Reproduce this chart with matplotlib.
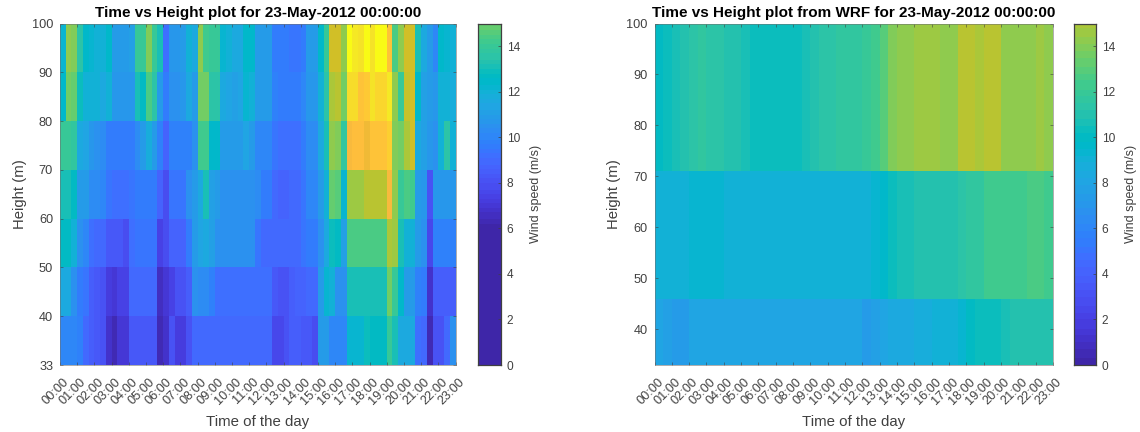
import numpy as np
import matplotlib
matplotlib.use("Agg")
import matplotlib.pyplot as plt
from matplotlib.colors import ListedColormap, Normalize
from matplotlib.transforms import ScaledTranslation

plt.rcParams['font.family'] = ['Liberation Sans', 'DejaVu Sans']

# MATLAB parula, 64 levels
parula = [
    [0.2422, 0.1504, 0.6603], [0.2504, 0.1650, 0.7076], [0.2578, 0.1818, 0.7511], [0.2647, 0.1978, 0.7952],
    [0.2706, 0.2147, 0.8364], [0.2751, 0.2342, 0.8710], [0.2783, 0.2559, 0.8991], [0.2803, 0.2782, 0.9221],
    [0.2813, 0.3006, 0.9414], [0.2810, 0.3228, 0.9579], [0.2795, 0.3447, 0.9717], [0.2760, 0.3667, 0.9829],
    [0.2699, 0.3892, 0.9906], [0.2602, 0.4123, 0.9952], [0.2440, 0.4358, 0.9988], [0.2206, 0.4603, 0.9973],
    [0.1963, 0.4847, 0.9892], [0.1834, 0.5074, 0.9798], [0.1786, 0.5289, 0.9682], [0.1764, 0.5499, 0.9520],
    [0.1687, 0.5703, 0.9359], [0.1540, 0.5902, 0.9218], [0.1460, 0.6091, 0.9079], [0.1380, 0.6276, 0.8973],
    [0.1248, 0.6459, 0.8883], [0.1113, 0.6635, 0.8763], [0.0952, 0.6798, 0.8598], [0.0689, 0.6948, 0.8394],
    [0.0297, 0.7082, 0.8163], [0.0036, 0.7203, 0.7917], [0.0067, 0.7312, 0.7660], [0.0433, 0.7411, 0.7394],
    [0.0964, 0.7500, 0.7120], [0.1408, 0.7584, 0.6842], [0.1717, 0.7670, 0.6554], [0.1938, 0.7758, 0.6251],
    [0.2161, 0.7843, 0.5923], [0.2470, 0.7918, 0.5567], [0.2906, 0.7973, 0.5188], [0.3406, 0.8008, 0.4789],
    [0.3909, 0.8029, 0.4354], [0.4456, 0.8024, 0.3909], [0.5044, 0.7993, 0.3480], [0.5616, 0.7942, 0.3045],
    [0.6174, 0.7876, 0.2612], [0.6720, 0.7793, 0.2227], [0.7242, 0.7698, 0.1910], [0.7738, 0.7598, 0.1646],
    [0.8203, 0.7498, 0.1535], [0.8634, 0.7406, 0.1596], [0.9035, 0.7330, 0.1774], [0.9393, 0.7288, 0.2100],
    [0.9728, 0.7298, 0.2394], [0.9956, 0.7434, 0.2371], [0.9970, 0.7659, 0.2199], [0.9952, 0.7893, 0.2028],
    [0.9892, 0.8136, 0.1885], [0.9786, 0.8386, 0.1766], [0.9676, 0.8639, 0.1643], [0.9610, 0.8890, 0.1537],
    [0.9597, 0.9135, 0.1423], [0.9628, 0.9373, 0.1265], [0.9691, 0.9606, 0.1064], [0.9769, 0.9839, 0.0805],
]

time_labels = ["%02d:00" % h for h in range(24)]

# measured wind speed, 20 minute columns, one list per height band
obs_90_100 = [12.2, 15.5, 15.2, 13.6, 12.5, 12.3, 12, 12, 12.4, 11, 11, 11, 11.2, 14, 14, 15.2, 14, 13, 9.2, 10.8, 10.8, 11, 12,
              11.5, 15.5, 14.2, 14, 14, 12.2, 12, 11.5, 11.6, 12.5, 12.5, 11, 11, 11, 9.5, 9.5, 9.5, 9.4, 9.3, 9.5, 11, 11, 12.5,
              14, 16.7, 16.5, 15.5, 20, 19.2, 19, 20, 19, 20, 20, 18, 14.5, 15.5, 16.5, 16.7, 13, 11.5, 11, 10, 12.5, 12.3, 12]
obs_80_90 = [12.5, 15, 14.8, 12.8, 12.1, 12, 12, 11.6, 12, 10.7, 10.7, 10.7, 10.8, 13, 12.6, 14.5, 13.5, 11, 9.5, 10.5, 10.5, 10.6, 11.5,
             11, 15, 15, 13.5, 13.5, 11.6, 11.4, 11.2, 11.4, 12.2, 12, 11, 11, 11, 9.8, 9.7, 9.7, 9.7, 9.7, 10, 10.6, 10.8, 12,
             13.5, 16, 16.2, 15, 18.8, 18.7, 18, 18.2, 19, 18.5, 18.5, 19.2, 15.5, 14, 16.4, 16.6, 12.5, 11.2, 11, 10.8, 12, 12, 11.8]
obs_70_80 = [14, 14, 13.8, 11.5, 11.4, 10.8, 10.5, 10.3, 9.7, 9.5, 9.5, 9.5, 9.6, 10.3, 10.9, 11.8, 11, 9.8, 8.8, 9.8, 9.8, 9.8, 9.9,
             10.4, 14.2, 14.3, 12.5, 12.4, 11, 11, 11, 11, 11.3, 11, 10, 10, 10, 9.3, 9.2, 9.2, 9.2, 9.2, 9.6, 10.2, 10.3, 11.5,
             13, 15.5, 15.2, 13.8, 17.5, 17.8, 17.8, 17.2, 18, 18, 18, 18.4, 15.2, 15, 16, 16.5, 11.5, 11.2, 10.6, 10.5, 12, 13.5, 12]
obs_60_70 = [13.2, 13, 12.6, 11, 10.9, 10.3, 10.2, 10, 9.3, 9.2, 9.2, 9.2, 9.3, 9.5, 9.6, 9.7, 9.5, 8.7, 7.8, 9.4, 9.4, 9.4, 10.5,
             11, 11.5, 13, 11.2, 11, 10.5, 10.5, 10.5, 10.5, 10.5, 10.5, 10.3, 9.5, 9.5, 8.9, 8.8, 8.8, 9, 9, 9.4, 10, 10, 11,
             12, 14.8, 14.6, 12.2, 15.8, 15.8, 15.8, 16.2, 16.2, 16.2, 16.2, 17.5, 15.5, 14, 14.5, 14.2, 11, 10.8, 8, 10.6, 10.8, 10.8, 10.8]
obs_50_60 = [12.6, 12.6, 12, 10.5, 10, 9.2, 8.9, 8.9, 8.4, 8.3, 8.2, 7.8, 9.2, 9.3, 9.3, 9.3, 9.3, 7.5, 7.9, 8.7, 8.7, 8.8, 9.5,
             10.9, 11.4, 11.5, 11.2, 10.5, 10.5, 10.5, 10.5, 10.5, 10.5, 10.5, 9.3, 9, 9, 9, 9, 9, 9, 9, 9.4, 9.5, 9.6, 10.5,
             11.5, 12.8, 12.6, 11.2, 14.5, 14.5, 14.5, 14.5, 14.5, 14.5, 14.5, 16, 15.8, 13, 12, 12, 11, 10.5, 7.6, 9.8, 9.8, 9.8, 9.8]
obs_40_50 = [11.5, 11.5, 10.5, 9.6, 9.4, 8.5, 8.3, 8, 7.2, 7, 7.4, 7.5, 9, 9, 9, 9, 9, 6.5, 6.9, 7.4, 8, 8, 8.5,
             10.4, 10.3, 10.2, 9.9, 9.2, 9.2, 9.2, 9.2, 9.2, 9.2, 9.2, 9.2, 9.2, 9.2, 8.3, 8, 8, 8.5, 8.8, 8.8, 9, 9, 11,
             12.2, 12, 10.4, 10.4, 13.2, 13.2, 13.2, 13.2, 13.2, 13.2, 13.2, 15, 14, 12.5, 11, 11, 9.8, 9.5, 6.7, 8.6, 8.6, 8.6, 8.6]
obs_33_40 = [10, 10, 10, 9.8, 9, 8.6, 8.4, 8, 6.8, 6.4, 7, 7, 8.3, 8.3, 8.3, 8.3, 8.3, 6.3, 6.8, 8, 7.3, 7.3, 8,
             9, 9, 9, 9, 8.9, 8.9, 9, 9, 9, 8.9, 9, 9, 9, 9, 7.7, 7.6, 8, 8.5, 8.5, 8.3, 8.2, 7.8, 11,
             11, 10, 10, 10, 12.3, 12.3, 12.3, 12.8, 12.6, 12.6, 12.6, 14, 13, 11.5, 11.5, 11.5, 9.2, 9, 6.3, 8, 8, 9, 10.5]
obs_heights = [33, 40, 50, 60, 70, 80, 90, 100]

# WRF output, half hour columns
wrf_71_100 = [10, 10.2, 10.5, 11, 11.4, 11.5, 11.4, 11.3, 11.1, 10.9, 10.8, 10.3, 10.2, 10.2, 10.2, 10.2, 10.2, 10.6, 10.9, 11.2, 11.4, 11.5, 11.5,
              11.5, 11.9, 12.3, 13, 14, 14.2, 14.2, 14.5, 14.6, 14.7, 14.3, 14.4, 15.3, 15.3, 15, 15.4, 15.4, 14.4, 14.4, 14.4, 14.4, 14.6, 14.4]
wrf_46_71 = [9, 9, 9, 9, 9.2, 9.2, 9.2, 9.2, 8.9, 8.9, 8.9, 8.9, 8.9, 8.9, 8.9, 8.9, 8.9, 8.9, 8.9, 9.1, 9.1, 9.1, 9.1,
             9.1, 9, 9.2, 9.6, 10.2, 10.6, 10.8, 11, 11, 11, 11, 11, 11.2, 11.6, 11.6, 12.4, 12.4, 12.3, 12.2, 12.2, 12.5, 12.6, 12.3]
wrf_33_46 = [8.2, 7.6, 7.5, 7.5, 8, 8, 8, 8, 8.2, 8.2, 8.2, 8.2, 8.2, 8.2, 8.2, 8.2, 7.9, 7.9, 7.9, 7.9, 8, 8, 8,
             8, 7.5, 7.7, 8, 8.4, 8.5, 8.5, 8.6, 8.7, 9, 9, 9.1, 9.5, 10.1, 10.4, 10.4, 10.4, 10.6, 11, 11, 11, 11, 11]
wrf_edges = [33, 46, 71, 100]

GREY = '#404040'
W, H = 1140.0, 432.0
cmap = ListedColormap(parula)


def add_axes_px(fig, x0, x1, y0, y1):
    # pixel box, y measured from the top of the image
    return fig.add_axes([x0 / W, 1 - y1 / H, (x1 - x0) / W, (y1 - y0) / H])


def style_axes(ax):
    for s in ax.spines.values():
        s.set_linewidth(0.4)
        s.set_color('#707070')
    ax.tick_params(axis='y', direction='in', length=2, width=0.4, color=GREY, labelcolor=GREY, labelsize=9.2,
                   right=True, pad=5)
    ax.tick_params(axis='x', direction='in', length=2, width=0.4, color=GREY, labelcolor=GREY, labelsize=9.2,
                   top=True, pad=8)


def draw_colorbar(fig, x0, x1, norm):
    cax = add_axes_px(fig, x0, x1, 23.5, 365)
    levels = np.linspace(0, 15, 151)
    vals = (levels[:-1] + levels[1:]) / 2
    cax.pcolormesh([0, 1], levels, vals[:, None], cmap=cmap, norm=norm)
    cax.set_xticks([])
    cax.set_ylim(0, 15)
    cax.set_yticks(range(0, 15, 2))
    cax.yaxis.tick_right()
    cax.yaxis.set_label_position('right')
    cax.tick_params(direction='in', length=2.5, width=0.5, color=GREY, labelcolor=GREY, labelsize=8.6, pad=4)
    cax.set_ylabel('Wind speed (m/s)', fontsize=9, color=GREY, labelpad=7)
    for s in cax.spines.values():
        s.set_linewidth(0.9)
        s.set_color(GREY)


def finish_time_axis(ax, title):
    ax.set_xlim(0, 23)
    ax.set_xticks(range(24))
    ax.set_xticklabels(time_labels, rotation=45, ha='right', rotation_mode='anchor', fontsize=9.2)
    # labels sit a little to the right of the anchor, like the MATLAB ones
    shift = ScaledTranslation(3 / 100, 0, fig.dpi_scale_trans)
    for lab in ax.get_xticklabels():
        lab.set_transform(lab.get_transform() + shift)
    ax.set_xlabel('Time of the day', fontsize=10.8, color=GREY, labelpad=5.5)
    ax.set_ylabel('Height (m)', fontsize=10.7, color=GREY, labelpad=3.5)
    ax.set_title(title, fontsize=11, fontweight='bold', color='black', pad=4.5)


fig = plt.figure(figsize=(W / 100, H / 100), dpi=100)

# left panel, measured
obs = np.array([obs_33_40, obs_40_50, obs_50_60, obs_60_70, obs_70_80, obs_80_90, obs_90_100])
norm_obs = Normalize(6, 20)
ax1 = add_axes_px(fig, 60, 455.5, 23.5, 365)
ax1.pcolormesh(np.linspace(0, 23, obs.shape[1] + 1), np.arange(len(obs_heights)), obs, cmap=cmap, norm=norm_obs)
ax1.set_yticks(np.arange(len(obs_heights)))
ax1.set_yticklabels(obs_heights)
style_axes(ax1)
finish_time_axis(ax1, 'Time vs Height plot for 23-May-2012 00:00:00')
draw_colorbar(fig, 478, 501, norm_obs)

# right panel, WRF
wrf = np.array([wrf_33_46, wrf_46_71, wrf_71_100])
norm_wrf = Normalize(0, 21)
ax2 = add_axes_px(fig, 654.5, 1053, 23.5, 365)
ax2.pcolormesh(np.linspace(0, 23, wrf.shape[1] + 1), wrf_edges, wrf, cmap=cmap, norm=norm_wrf)
ax2.set_ylim(33, 100)
ax2.set_yticks(range(40, 101, 10))
style_axes(ax2)
finish_time_axis(ax2, 'Time vs Height plot from WRF for 23-May-2012 00:00:00')
draw_colorbar(fig, 1073.5, 1096, norm_wrf)

fig.savefig('out.png', dpi=100)
